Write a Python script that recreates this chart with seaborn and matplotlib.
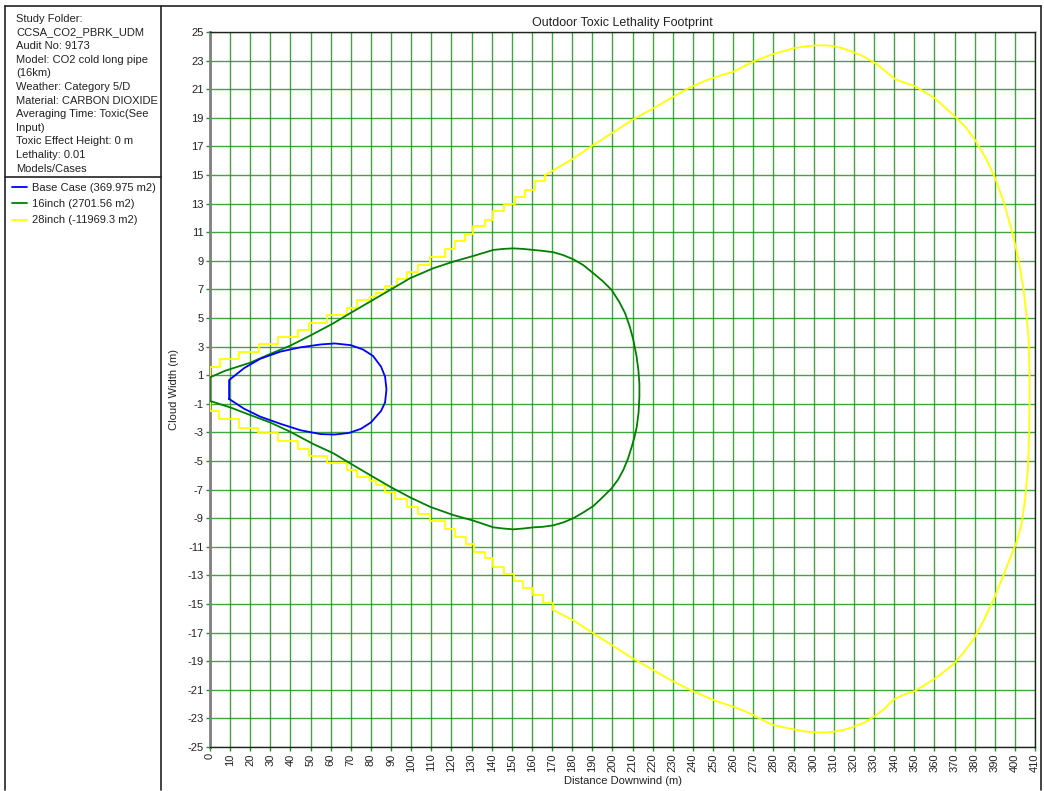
import numpy as np
import pandas as pd
import seaborn as sns
import matplotlib
matplotlib.use("Agg")
import matplotlib.pyplot as plt
from matplotlib.lines import Line2D

# --- data (m) ---
base_x = [9.5, 9.5, 17.0, 25.0, 35.0, 45.0, 55.0, 62.0, 70.0, 76.0, 81.0, 85.0, 87.0,
          87.7, 87.0, 85.0, 80.0, 75.0, 69.0, 62.0, 55.0, 45.0, 35.0, 25.0, 17.0, 9.5]
base_y = [-0.66, 0.66, 1.5, 2.15, 2.65, 2.95, 3.15, 3.22, 3.1, 2.8, 2.35, 1.6, 0.9,
          0.0, -0.9, -1.5, -2.3, -2.75, -3.04, -3.15, -3.12, -2.85, -2.4, -1.9, -1.35, -0.66]

green_x = [0, 0, 7.5, 19.9, 29.8, 39.8, 51.3, 61.3, 69.6, 79.5, 89.5, 99.4, 111.0,
           120.9, 130.9, 140.8, 145.7, 150.7, 155.7, 160.7, 165.0, 170.6, 175.5, 180.6,
           185.5, 190.5, 195.0, 199.6, 203.5, 206.3, 208.6, 210.4, 212.0, 212.9, 213.4,
           213.4, 213.0, 212.1, 211.0, 209.6, 207.7, 205.4, 202.8, 199.6, 195.0, 190.5,
           185.5, 180.6, 175.5, 170.6, 165.5, 160.7, 155.7, 150.7, 145.7, 140.8, 130.9,
           120.9, 109.3, 99.4, 89.5, 79.5, 69.6, 61.3, 51.3, 39.8, 29.8, 19.9, 10.0, 0]
green_y = [-0.8, 0.85, 1.31, 1.87, 2.48, 3.06, 3.88, 4.63, 5.33, 6.14, 6.96, 7.78, 8.48,
           8.94, 9.34, 9.76, 9.83, 9.87, 9.83, 9.76, 9.7, 9.6, 9.4, 9.1,
           8.7, 8.13, 7.6, 6.96, 6.1, 5.33, 4.4, 3.46, 2.3, 1.36, 0.4,
           -0.5, -1.6, -2.6, -3.3, -4.0, -4.85, -5.63, -6.3, -6.91, -7.55, -8.15,
           -8.6, -9.0, -9.3, -9.5, -9.6, -9.64, -9.72, -9.78, -9.72, -9.64, -9.17,
           -8.78, -8.2, -7.54, -6.8, -5.98, -5.16, -4.46, -3.81, -2.95, -2.3, -1.78, -1.25, -0.8]

# stair-stepped near-field part of the 28inch contour
y28_up_x = [0, 0, 5.0, 14.6, 24.2, 33.8, 43.6, 49.2, 58.3, 67.9, 72.9, 79.5, 82.3, 87.1,
            92.7, 97.7, 103.5, 109.3, 116.8, 121.8, 126.7, 130.9, 136.7, 140.8, 146.1,
            151.6, 156.6, 161.6, 166.6]
y28_up_y = [-1.48, 1.6, 2.13, 2.62, 3.18, 3.7, 4.18, 4.65, 5.2, 5.72, 6.24, 6.5, 6.73, 7.25,
            7.76, 8.25, 8.72, 9.25, 9.8, 10.35, 10.86, 11.4, 11.87, 12.45, 13.0,
            13.45, 13.97, 14.55, 15.0]
y28_lo_x = [0, 4.6, 14.6, 24.0, 34.0, 43.6, 49.0, 58.3, 67.9, 72.9, 79.5, 82.3, 87.1, 91.9,
            97.7, 103.2, 109.3, 116.8, 121.8, 127.1, 131.2, 136.7, 140.8, 146.1, 151.1,
            155.7, 160.7, 165.7, 170.6]
y28_lo_y = [-1.48, -2.06, -2.67, -3.06, -3.62, -4.15, -4.62, -5.12, -5.63, -6.14, -6.4, -6.68,
            -7.17, -7.68, -8.2, -8.71, -9.2, -9.73, -10.3, -10.8, -11.34, -11.8, -12.39,
            -12.9, -13.37, -13.9, -14.37, -14.9, -15.42]
# smooth far-field part of the 28inch contour
y28_far_x = [166.6, 180, 190, 200, 210.4, 220.3, 230.3, 238.6, 246.9, 253.5, 260.1, 266.0,
             271.7, 280, 289.9, 295.0, 299.9, 304.0, 308.2, 314.0, 319.7, 325.0, 329.7,
             333, 337.0, 340.5, 350.4, 360.3, 370.3, 375.5, 380.2, 386.1, 390.2, 394.5,
             398.4, 401.5, 404.3, 405.8, 406.8, 407.3, 407.3, 407.1, 406.5, 405.2, 403.5,
             401.0, 398.5, 394.0, 389.4, 384.5, 379.5, 374.5, 369.5, 362.9, 356.0, 350,
             344.5, 339.6, 335.0, 330, 325.0, 320, 315.0, 310, 305.0, 300, 295.0, 290,
             285.0, 280, 275.0, 270, 265.0, 260, 255.0, 250, 240, 230, 220, 210, 200, 190,
             180, 170.6]
y28_far_y = [15.0, 16.1, 17.05, 17.95, 18.9, 19.66, 20.48, 21.13, 21.64, 21.95, 22.22, 22.65,
             23.04, 23.46, 23.86, 23.98, 24.05, 24.07, 24.05, 23.88, 23.6, 23.28, 22.9,
             22.57, 22.1, 21.7, 21.2, 20.36, 19.08, 18.35, 17.45, 16.05, 14.77, 13.1,
             11.15, 9.3, 7.05, 5.2, 3.55, 1.2, -0.95, -3.2, -5.5, -7.5, -9.3,
             -10.6, -11.5, -13.1, -14.7, -16.15, -17.45, -18.4, -19.2, -19.95, -20.6, -21.1,
             -21.35, -21.7, -22.35, -22.88, -23.3, -23.58, -23.8, -23.93, -23.99, -23.97,
             -23.9, -23.76, -23.62, -23.46, -23.15, -22.76, -22.45, -22.18, -21.95, -21.7,
             -21.1, -20.4, -19.6, -18.8, -17.9, -17.0, -16.1, -15.42]

labels = ["Base Case (369.975 m2)", "16inch (2701.56 m2)", "28inch (-11969.3 m2)"]
info_lines = ["Study Folder:", "CCSA_CO2_PBRK_UDM", "Audit No: 9173",
              "Model: CO2 cold long pipe", "(16km)", "Weather: Category 5/D",
              "Material: CARBON DIOXIDE", "Averaging Time: Toxic(See", "Input)",
              "Toxic Effect Height: 0 m", "Lethality: 0.01", "Models/Cases"]
x_ticks = list(range(0, 411, 10))
y_ticks = list(range(-25, 26, 2))

sns.set_style("white")
plt.rcParams["font.family"] = ["Liberation Sans", "DejaVu Sans"]
plt.rcParams["axes.unicode_minus"] = False

W, H = 1044, 791
fig = plt.figure(figsize=(W / 100, H / 100), dpi=100)
ax = fig.add_axes([210 / W, 1 - 747 / H, 825 / W, 715 / H])

lw = 1.3
kw = dict(sort=False, estimator=None, ax=ax, linewidth=lw)
sns.lineplot(x=base_x, y=base_y, color="#0000ff", label=labels[0], zorder=5, **kw)
sns.lineplot(x=green_x, y=green_y, color="#008000", label=labels[1], zorder=4, **kw)
sns.lineplot(x=y28_up_x, y=y28_up_y, color="#ffff00", label=labels[2], zorder=3,
             drawstyle="steps-post", **kw)
sns.lineplot(x=y28_lo_x, y=y28_lo_y, color="#ffff00", zorder=3, drawstyle="steps-post", **kw)
sns.lineplot(x=y28_far_x, y=y28_far_y, color="#ffff00", zorder=3, **kw)

handles, _ = ax.get_legend_handles_labels()
ax.get_legend().remove()

ax.set_xlim(0, 410)
ax.set_ylim(-25, 25)
ax.set_xticks(x_ticks)
ax.set_yticks(y_ticks)
ax.set_xticklabels([str(v) for v in x_ticks], rotation=90)
ax.grid(True, color="#1e961e", linewidth=1.0, alpha=0.85)
ax.set_axisbelow(True)
ax.tick_params(axis="both", which="major", length=3, width=1, color="#1e961e",
               labelsize=8, labelcolor="#222222", pad=1.5, left=True, bottom=True)

for side in ["top", "right", "bottom"]:
    ax.spines[side].set_color("#222222")
    ax.spines[side].set_linewidth(1.0)
ax.spines["left"].set_color("#808080")
ax.spines["left"].set_linewidth(2.0)

ax.set_title("Outdoor Toxic Lethality Footprint", fontsize=9, color="#222222", pad=4)
ax.set_xlabel("Distance Downwind (m)", fontsize=8, color="#222222")
ax.set_ylabel("Cloud Width (m)", fontsize=8, color="#222222")
ax.xaxis.set_label_coords(0.5, -0.040)
ax.yaxis.set_label_coords(-0.037, 0.5)

# left information panel
def fline(x0, y0, x1, y1, **k):
    fig.add_artist(Line2D([x0 / W, x1 / W], [1 - y0 / H, 1 - y1 / H],
                          transform=fig.transFigure, color="#222222", linewidth=1.2, **k))

fline(5, 6, W - 3, 6)
fline(5, 6, 5, H - 1)
fline(161, 6, 161, H - 1)
fline(5, 177, 161, 177)
fline(W - 3, 6, W - 3, H - 1)

for i, line in enumerate(info_lines):
    fig.text(16 / W, 1 - (19 + i * 13.6) / H, line, fontsize=8, color="#222222",
             va="center", ha="left")

fig.legend(handles, labels, loc="upper left", bbox_to_anchor=(10 / W, 1 - 181 / H),
           frameon=False, fontsize=8, handlelength=1.3, handletextpad=0.5,
           labelspacing=0.55, borderaxespad=0, borderpad=0.2,
           labelcolor="#222222")

fig.savefig("out.png", dpi=100, facecolor="white")
